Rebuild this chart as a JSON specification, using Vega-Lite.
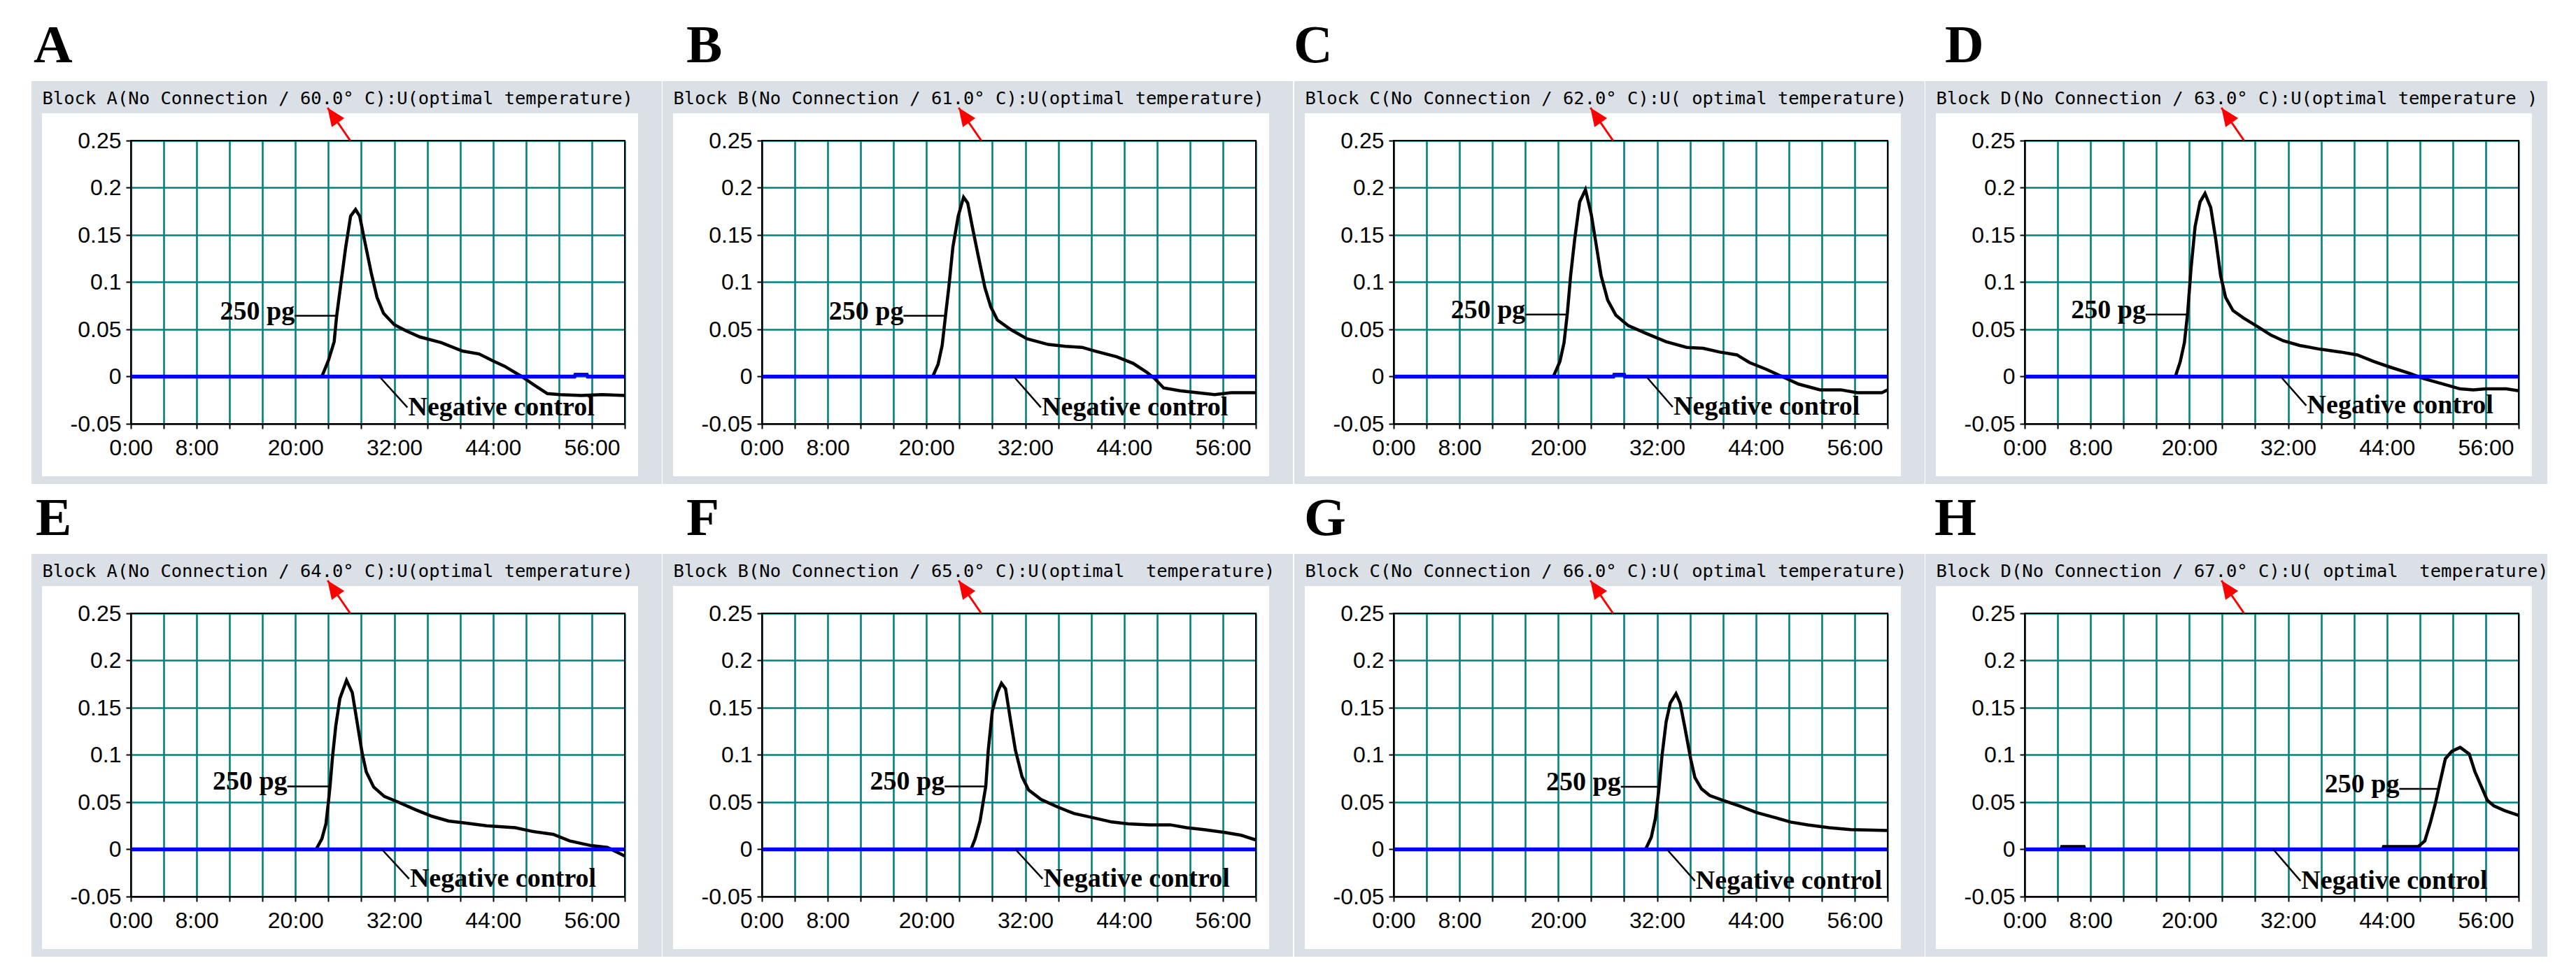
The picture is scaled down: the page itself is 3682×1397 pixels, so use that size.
{
"$schema": "https://vega.github.io/schema/vega-lite/v6.json",
"background": "white",
"padding": {"left": 44, "top": 27, "right": 0, "bottom": 0},
"config": {
  "view": {"stroke": null},
  "axis": {"grid": true, "ticks": true, "domainColor": "#000000", "domainWidth": 2, "tickColor": "#000000", "tickWidth": 2, "tickSize": 7, "labelFont": "Liberation Sans", "labelFontSize": 32, "labelColor": "#000000", "gridColor": "#008080", "gridWidth": 2.6, "gridOpacity": 1},
  "axisX": {"labelPadding": 12},
  "axisY": {"labelPadding": 7},
  "title": {"font": "Liberation Serif", "fontSize": 77, "fontWeight": "bold", "color": "#000000", "anchor": "start", "frame": "bounds", "offset": 11, "baseline": "alphabetic"}
},
"datasets": {
  "A_s": [{"minute":0,"signal":0},{"minute":23.2,"signal":0},{"minute":24.0,"signal":0.017},{"minute":24.7,"signal":0.037},{"minute":25.0,"signal":0.064},{"minute":25.6,"signal":0.104},{"minute":26.1,"signal":0.137},{"minute":26.7,"signal":0.170},{"minute":27.3,"signal":0.177},{"minute":27.8,"signal":0.170},{"minute":28.4,"signal":0.144},{"minute":29.2,"signal":0.110},{"minute":29.9,"signal":0.084},{"minute":30.7,"signal":0.067},{"minute":32.0,"signal":0.055},{"minute":33.3,"signal":0.049},{"minute":35.1,"signal":0.042},{"minute":37.7,"signal":0.036},{"minute":40.3,"signal":0.027},{"minute":42.3,"signal":0.024},{"minute":43.9,"signal":0.017},{"minute":45.4,"signal":0.011},{"minute":47.5,"signal":0.0},{"minute":49.0,"signal":-0.009},{"minute":50.6,"signal":-0.018},{"minute":52.1,"signal":-0.019},{"minute":54.7,"signal":-0.020},{"minute":57.3,"signal":-0.019},{"minute":60,"signal":-0.020}],
  "B_s": [{"minute":0,"signal":0},{"minute":20.75,"signal":0},{"minute":21.4,"signal":0.013},{"minute":21.9,"signal":0.033},{"minute":22.3,"signal":0.064},{"minute":22.7,"signal":0.094},{"minute":23.2,"signal":0.137},{"minute":23.85,"signal":0.170},{"minute":24.5,"signal":0.190},{"minute":25.0,"signal":0.184},{"minute":25.6,"signal":0.157},{"minute":26.3,"signal":0.127},{"minute":27.1,"signal":0.094},{"minute":27.8,"signal":0.074},{"minute":28.6,"signal":0.060},{"minute":30.2,"signal":0.050},{"minute":32.2,"signal":0.040},{"minute":34.8,"signal":0.034},{"minute":36.9,"signal":0.032},{"minute":38.9,"signal":0.031},{"minute":40.5,"signal":0.027},{"minute":43.1,"signal":0.021},{"minute":45.1,"signal":0.014},{"minute":46.7,"signal":0.005},{"minute":47.7,"signal":-0.002},{"minute":48.8,"signal":-0.012},{"minute":50.8,"signal":-0.015},{"minute":52.9,"signal":-0.017},{"minute":55.0,"signal":-0.019},{"minute":57.0,"signal":-0.017},{"minute":60,"signal":-0.017}],
  "C_s": [{"minute":0,"signal":0},{"minute":19.4,"signal":0},{"minute":20.2,"signal":0.016},{"minute":20.7,"signal":0.036},{"minute":21.1,"signal":0.067},{"minute":21.5,"signal":0.107},{"minute":22.0,"signal":0.146},{"minute":22.6,"signal":0.185},{"minute":23.3,"signal":0.198},{"minute":24.0,"signal":0.172},{"minute":24.6,"signal":0.140},{"minute":25.2,"signal":0.107},{"minute":26.0,"signal":0.081},{"minute":27.0,"signal":0.065},{"minute":28.5,"signal":0.054},{"minute":30.6,"signal":0.046},{"minute":33.1,"signal":0.037},{"minute":35.6,"signal":0.031},{"minute":37.6,"signal":0.030},{"minute":39.6,"signal":0.026},{"minute":41.7,"signal":0.023},{"minute":43.2,"signal":0.015},{"minute":45.2,"signal":0.008},{"minute":47.2,"signal":0.0},{"minute":49.2,"signal":-0.008},{"minute":51.8,"signal":-0.014},{"minute":54.3,"signal":-0.014},{"minute":56.3,"signal":-0.017},{"minute":59.3,"signal":-0.017},{"minute":60,"signal":-0.014}],
  "D_s": [{"minute":0,"signal":0},{"minute":18.3,"signal":0},{"minute":18.9,"signal":0.016},{"minute":19.4,"signal":0.036},{"minute":19.8,"signal":0.068},{"minute":20.2,"signal":0.114},{"minute":20.7,"signal":0.159},{"minute":21.3,"signal":0.185},{"minute":21.9,"signal":0.194},{"minute":22.6,"signal":0.179},{"minute":23.2,"signal":0.146},{"minute":23.8,"signal":0.107},{"minute":24.4,"signal":0.084},{"minute":25.3,"signal":0.070},{"minute":26.6,"signal":0.062},{"minute":28.1,"signal":0.054},{"minute":29.9,"signal":0.044},{"minute":31.4,"signal":0.038},{"minute":33.4,"signal":0.033},{"minute":35.9,"signal":0.029},{"minute":38.4,"signal":0.026},{"minute":40.4,"signal":0.023},{"minute":42.4,"signal":0.016},{"minute":44.4,"signal":0.010},{"minute":46.9,"signal":0.003},{"minute":48.4,"signal":-0.002},{"minute":50.9,"signal":-0.008},{"minute":52.9,"signal":-0.013},{"minute":54.5,"signal":-0.014},{"minute":56.0,"signal":-0.013},{"minute":58.5,"signal":-0.013},{"minute":60,"signal":-0.015}],
  "E_s": [{"minute":0,"signal":0},{"minute":22.5,"signal":0},{"minute":23.2,"signal":0.011},{"minute":23.7,"signal":0.027},{"minute":24.0,"signal":0.050},{"minute":24.2,"signal":0.067},{"minute":24.5,"signal":0.098},{"minute":24.9,"signal":0.131},{"minute":25.4,"signal":0.160},{"minute":26.2,"signal":0.179},{"minute":26.9,"signal":0.166},{"minute":27.5,"signal":0.134},{"minute":28.1,"signal":0.102},{"minute":28.6,"signal":0.082},{"minute":29.5,"signal":0.066},{"minute":30.8,"signal":0.056},{"minute":32.5,"signal":0.050},{"minute":34.6,"signal":0.042},{"minute":36.6,"signal":0.035},{"minute":38.6,"signal":0.030},{"minute":40.6,"signal":0.028},{"minute":43.2,"signal":0.025},{"minute":46.7,"signal":0.023},{"minute":48.8,"signal":0.019},{"minute":51.3,"signal":0.016},{"minute":53.3,"signal":0.009},{"minute":55.9,"signal":0.004},{"minute":57.9,"signal":0.002},{"minute":60,"signal":-0.007}],
  "F_s": [{"minute":0,"signal":0},{"minute":25.4,"signal":0},{"minute":25.9,"signal":0.011},{"minute":26.5,"signal":0.030},{"minute":27.2,"signal":0.067},{"minute":27.5,"signal":0.105},{"minute":28.0,"signal":0.147},{"minute":28.6,"signal":0.166},{"minute":29.1,"signal":0.176},{"minute":29.6,"signal":0.170},{"minute":30.2,"signal":0.137},{"minute":30.8,"signal":0.105},{"minute":31.6,"signal":0.077},{"minute":32.4,"signal":0.063},{"minute":33.9,"signal":0.053},{"minute":35.9,"signal":0.045},{"minute":37.9,"signal":0.038},{"minute":40.0,"signal":0.034},{"minute":42.5,"signal":0.029},{"minute":44.5,"signal":0.027},{"minute":47.1,"signal":0.026},{"minute":49.6,"signal":0.026},{"minute":51.6,"signal":0.023},{"minute":53.7,"signal":0.021},{"minute":56.2,"signal":0.018},{"minute":58.2,"signal":0.015},{"minute":60,"signal":0.010}],
  "G_s": [{"minute":0,"signal":0},{"minute":30.6,"signal":0},{"minute":31.3,"signal":0.013},{"minute":31.8,"signal":0.033},{"minute":32.2,"signal":0.062},{"minute":32.6,"signal":0.099},{"minute":33.1,"signal":0.135},{"minute":33.6,"signal":0.155},{"minute":34.3,"signal":0.165},{"minute":34.8,"signal":0.155},{"minute":35.4,"signal":0.128},{"minute":36.1,"signal":0.095},{"minute":36.6,"signal":0.076},{"minute":37.4,"signal":0.064},{"minute":38.4,"signal":0.057},{"minute":40.0,"signal":0.052},{"minute":42.0,"signal":0.046},{"minute":44.1,"signal":0.039},{"minute":46.2,"signal":0.034},{"minute":48.2,"signal":0.029},{"minute":50.3,"signal":0.026},{"minute":52.9,"signal":0.023},{"minute":55.5,"signal":0.021},{"minute":60,"signal":0.020}],
  "H_s": [{"minute":0,"signal":0},{"minute":4.4,"signal":0},{"minute":4.5,"signal":0.003},{"minute":7.2,"signal":0.003},{"minute":7.3,"signal":0},{"minute":43.5,"signal":0},{"minute":43.6,"signal":0.003},{"minute":47.8,"signal":0.003},{"minute":48.6,"signal":0.009},{"minute":49.3,"signal":0.029},{"minute":49.9,"signal":0.049},{"minute":50.4,"signal":0.069},{"minute":51.1,"signal":0.096},{"minute":51.9,"signal":0.104},{"minute":52.9,"signal":0.108},{"minute":54.0,"signal":0.101},{"minute":54.7,"signal":0.082},{"minute":55.5,"signal":0.066},{"minute":56.2,"signal":0.052},{"minute":57.0,"signal":0.046},{"minute":58.3,"signal":0.041},{"minute":60,"signal":0.036}],
  "A_n": [{"minute":0,"signal":0},{"minute":53.9,"signal":0},{"minute":54.0,"signal":0.002},{"minute":55.4,"signal":0.002},{"minute":55.5,"signal":0},{"minute":60,"signal":0}],
  "C_n": [{"minute":0,"signal":0},{"minute":26.7,"signal":0},{"minute":26.8,"signal":0.002},{"minute":28.0,"signal":0.002},{"minute":28.1,"signal":0},{"minute":60,"signal":0}],
  "N0": [{"minute":0,"signal":0},{"minute":60,"signal":0}],
  "one": [{}]
},
"columns": 4,
"spacing": {"row": 11, "column": 0},
"concat": [
{"width": 706, "height": 405, "title": {"text": "A", "dx": 3},
 "layer": [
  {"data": {"name": "A_s"}, "mark": {"type": "line", "color": "#000000", "strokeWidth": 4.5, "opacity": 0}, "encoding": {"x": {"field": "minute", "type": "quantitative", "scale": {"domain": [0, 60], "nice": false, "zero": false}, "axis": {"grid": true, "values": [0,4,8,12,16,20,24,28,32,36,40,44,48,52,56,60], "labelExpr": "indexof([0,8,20,32,44,56], datum.value) >= 0 ? datum.value + ':00' : ''", "labelFlush": false, "labelOverlap": false, "title": null}}, "y": {"field": "signal", "type": "quantitative", "scale": {"domain": [-0.05, 0.25], "nice": false, "zero": false}, "axis": {"grid": true, "values": [-0.05,0,0.05,0.1,0.15,0.2,0.25], "labelExpr": "datum.value < 0 ? '-' + format(-datum.value, '~g') : format(datum.value, '~g')", "labelOverlap": false, "title": null}}}},
  {"data": {"name": "one"}, "mark": {"type": "rect", "color": "#dbe0e7"}, "encoding": {"x": {"datum": -12.068, "type": "quantitative"}, "x2": {"datum": 64.504}, "y": {"datum": 0.27889, "type": "quantitative"}, "y2": {"datum": 0.31296}}},
  {"data": {"name": "one"}, "mark": {"type": "rect", "color": "#dbe0e7"}, "encoding": {"x": {"datum": -12.068, "type": "quantitative"}, "x2": {"datum": 64.504}, "y": {"datum": -0.1137, "type": "quantitative"}, "y2": {"datum": -0.10556}}},
  {"data": {"name": "one"}, "mark": {"type": "rect", "color": "#dbe0e7"}, "encoding": {"x": {"datum": -12.068, "type": "quantitative"}, "x2": {"datum": -10.793}, "y": {"datum": -0.1137, "type": "quantitative"}, "y2": {"datum": 0.31296}}},
  {"data": {"name": "one"}, "mark": {"type": "rect", "color": "#dbe0e7"}, "encoding": {"x": {"datum": 61.615, "type": "quantitative"}, "x2": {"datum": 64.504}, "y": {"datum": -0.1137, "type": "quantitative"}, "y2": {"datum": 0.31296}}},
  {"data": {"name": "A_s"}, "mark": {"type": "line", "color": "#000000", "strokeWidth": 4.5}, "encoding": {"x": {"field": "minute", "type": "quantitative"}, "y": {"field": "signal", "type": "quantitative"}}},
  {"data": {"name": "A_n"}, "mark": {"type": "line", "color": "#0000ff", "strokeWidth": 5.5}, "encoding": {"x": {"field": "minute", "type": "quantitative"}, "y": {"field": "signal", "type": "quantitative"}}},
  {"data": {"name": "one"}, "mark": {"type": "rect", "filled": false, "stroke": "#000000", "strokeWidth": 2}, "encoding": {"x": {"datum": 0, "type": "quantitative"}, "x2": {"datum": 60}, "y": {"datum": -0.05, "type": "quantitative"}, "y2": {"datum": 0.25}}},
  {"data": {"name": "one"}, "mark": {"type": "rule", "color": "#000000", "strokeWidth": 2.5}, "encoding": {"x": {"datum": 19.9, "type": "quantitative"}, "x2": {"datum": 25.0}, "y": {"datum": 0.0644, "type": "quantitative"}, "y2": {"datum": 0.0644}}},
  {"data": {"name": "one"}, "mark": {"type": "text", "text": "250 pg", "font": "Liberation Serif", "fontWeight": "bold", "fontSize": 38, "align": "right", "baseline": "alphabetic", "color": "#000000"}, "encoding": {"x": {"datum": 19.9, "type": "quantitative"}, "y": {"datum": 0.0607, "type": "quantitative"}}},
  {"data": {"name": "one"}, "mark": {"type": "rule", "color": "#000000", "strokeWidth": 2.5}, "encoding": {"x": {"datum": 30.2, "type": "quantitative"}, "x2": {"datum": 33.6}, "y": {"datum": 0, "type": "quantitative"}, "y2": {"datum": -0.0327}}},
  {"data": {"name": "one"}, "mark": {"type": "text", "text": "Negative control", "font": "Liberation Serif", "fontWeight": "bold", "fontSize": 38, "align": "left", "baseline": "alphabetic", "color": "#000000"}, "encoding": {"x": {"datum": 33.7, "type": "quantitative"}, "y": {"datum": -0.041, "type": "quantitative"}}},
  {"data": {"name": "one"}, "mark": {"type": "rule", "color": "#ff0000", "strokeWidth": 3}, "encoding": {"x": {"datum": 26.65, "type": "quantitative"}, "x2": {"datum": 23.9}, "y": {"datum": 0.25, "type": "quantitative"}, "y2": {"datum": 0.2848}}},
  {"data": {"name": "one"}, "mark": {"type": "point", "shape": "M0,0L-1.1,2.6L1.1,2.6Z", "size": 400, "filled": true, "color": "#ff0000", "opacity": 1, "angle": -35}, "encoding": {"x": {"datum": 23.9, "type": "quantitative"}, "y": {"datum": 0.2848, "type": "quantitative"}}},
  {"data": {"name": "one"}, "mark": {"type": "text", "text": "Block A(No Connection / 60.0° C):U(optimal temperature)", "font": "DejaVu Sans Mono", "fontSize": 25.5, "align": "left", "baseline": "alphabetic", "color": "#000000"}, "encoding": {"x": {"datum": -10.75, "type": "quantitative"}, "y": {"datum": 0.28852, "type": "quantitative"}}}
 ]},
{"width": 706, "height": 405, "title": {"text": "B", "dx": 34},
 "layer": [
  {"data": {"name": "B_s"}, "mark": {"type": "line", "color": "#000000", "strokeWidth": 4.5, "opacity": 0}, "encoding": {"x": {"field": "minute", "type": "quantitative", "scale": {"domain": [0, 60], "nice": false, "zero": false}, "axis": {"grid": true, "values": [0,4,8,12,16,20,24,28,32,36,40,44,48,52,56,60], "labelExpr": "indexof([0,8,20,32,44,56], datum.value) >= 0 ? datum.value + ':00' : ''", "labelFlush": false, "labelOverlap": false, "title": null}}, "y": {"field": "signal", "type": "quantitative", "scale": {"domain": [-0.05, 0.25], "nice": false, "zero": false}, "axis": {"grid": true, "values": [-0.05,0,0.05,0.1,0.15,0.2,0.25], "labelExpr": "datum.value < 0 ? '-' + format(-datum.value, '~g') : format(datum.value, '~g')", "labelOverlap": false, "title": null}}}},
  {"data": {"name": "one"}, "mark": {"type": "rect", "color": "#dbe0e7"}, "encoding": {"x": {"datum": -12.068, "type": "quantitative"}, "x2": {"datum": 64.504}, "y": {"datum": 0.27889, "type": "quantitative"}, "y2": {"datum": 0.31296}}},
  {"data": {"name": "one"}, "mark": {"type": "rect", "color": "#dbe0e7"}, "encoding": {"x": {"datum": -12.068, "type": "quantitative"}, "x2": {"datum": 64.504}, "y": {"datum": -0.1137, "type": "quantitative"}, "y2": {"datum": -0.10556}}},
  {"data": {"name": "one"}, "mark": {"type": "rect", "color": "#dbe0e7"}, "encoding": {"x": {"datum": -12.068, "type": "quantitative"}, "x2": {"datum": -10.793}, "y": {"datum": -0.1137, "type": "quantitative"}, "y2": {"datum": 0.31296}}},
  {"data": {"name": "one"}, "mark": {"type": "rect", "color": "#dbe0e7"}, "encoding": {"x": {"datum": 61.615, "type": "quantitative"}, "x2": {"datum": 64.504}, "y": {"datum": -0.1137, "type": "quantitative"}, "y2": {"datum": 0.31296}}},
  {"data": {"name": "B_s"}, "mark": {"type": "line", "color": "#000000", "strokeWidth": 4.5}, "encoding": {"x": {"field": "minute", "type": "quantitative"}, "y": {"field": "signal", "type": "quantitative"}}},
  {"data": {"name": "N0"}, "mark": {"type": "line", "color": "#0000ff", "strokeWidth": 5.5}, "encoding": {"x": {"field": "minute", "type": "quantitative"}, "y": {"field": "signal", "type": "quantitative"}}},
  {"data": {"name": "one"}, "mark": {"type": "rect", "filled": false, "stroke": "#000000", "strokeWidth": 2}, "encoding": {"x": {"datum": 0, "type": "quantitative"}, "x2": {"datum": 60}, "y": {"datum": -0.05, "type": "quantitative"}, "y2": {"datum": 0.25}}},
  {"data": {"name": "one"}, "mark": {"type": "rule", "color": "#000000", "strokeWidth": 2.5}, "encoding": {"x": {"datum": 17.2, "type": "quantitative"}, "x2": {"datum": 22.3}, "y": {"datum": 0.0644, "type": "quantitative"}, "y2": {"datum": 0.0644}}},
  {"data": {"name": "one"}, "mark": {"type": "text", "text": "250 pg", "font": "Liberation Serif", "fontWeight": "bold", "fontSize": 38, "align": "right", "baseline": "alphabetic", "color": "#000000"}, "encoding": {"x": {"datum": 17.2, "type": "quantitative"}, "y": {"datum": 0.0607, "type": "quantitative"}}},
  {"data": {"name": "one"}, "mark": {"type": "rule", "color": "#000000", "strokeWidth": 2.5}, "encoding": {"x": {"datum": 30.6, "type": "quantitative"}, "x2": {"datum": 33.9}, "y": {"datum": 0, "type": "quantitative"}, "y2": {"datum": -0.0327}}},
  {"data": {"name": "one"}, "mark": {"type": "text", "text": "Negative control", "font": "Liberation Serif", "fontWeight": "bold", "fontSize": 38, "align": "left", "baseline": "alphabetic", "color": "#000000"}, "encoding": {"x": {"datum": 34.0, "type": "quantitative"}, "y": {"datum": -0.041, "type": "quantitative"}}},
  {"data": {"name": "one"}, "mark": {"type": "rule", "color": "#ff0000", "strokeWidth": 3}, "encoding": {"x": {"datum": 26.65, "type": "quantitative"}, "x2": {"datum": 23.9}, "y": {"datum": 0.25, "type": "quantitative"}, "y2": {"datum": 0.2848}}},
  {"data": {"name": "one"}, "mark": {"type": "point", "shape": "M0,0L-1.1,2.6L1.1,2.6Z", "size": 400, "filled": true, "color": "#ff0000", "opacity": 1, "angle": -35}, "encoding": {"x": {"datum": 23.9, "type": "quantitative"}, "y": {"datum": 0.2848, "type": "quantitative"}}},
  {"data": {"name": "one"}, "mark": {"type": "text", "text": "Block B(No Connection / 61.0° C):U(optimal temperature)", "font": "DejaVu Sans Mono", "fontSize": 25.5, "align": "left", "baseline": "alphabetic", "color": "#000000"}, "encoding": {"x": {"datum": -10.75, "type": "quantitative"}, "y": {"datum": 0.28852, "type": "quantitative"}}}
 ]},
{"width": 706, "height": 405, "title": {"text": "C", "dx": -1},
 "layer": [
  {"data": {"name": "C_s"}, "mark": {"type": "line", "color": "#000000", "strokeWidth": 4.5, "opacity": 0}, "encoding": {"x": {"field": "minute", "type": "quantitative", "scale": {"domain": [0, 60], "nice": false, "zero": false}, "axis": {"grid": true, "values": [0,4,8,12,16,20,24,28,32,36,40,44,48,52,56,60], "labelExpr": "indexof([0,8,20,32,44,56], datum.value) >= 0 ? datum.value + ':00' : ''", "labelFlush": false, "labelOverlap": false, "title": null}}, "y": {"field": "signal", "type": "quantitative", "scale": {"domain": [-0.05, 0.25], "nice": false, "zero": false}, "axis": {"grid": true, "values": [-0.05,0,0.05,0.1,0.15,0.2,0.25], "labelExpr": "datum.value < 0 ? '-' + format(-datum.value, '~g') : format(datum.value, '~g')", "labelOverlap": false, "title": null}}}},
  {"data": {"name": "one"}, "mark": {"type": "rect", "color": "#dbe0e7"}, "encoding": {"x": {"datum": -12.068, "type": "quantitative"}, "x2": {"datum": 64.504}, "y": {"datum": 0.27889, "type": "quantitative"}, "y2": {"datum": 0.31296}}},
  {"data": {"name": "one"}, "mark": {"type": "rect", "color": "#dbe0e7"}, "encoding": {"x": {"datum": -12.068, "type": "quantitative"}, "x2": {"datum": 64.504}, "y": {"datum": -0.1137, "type": "quantitative"}, "y2": {"datum": -0.10556}}},
  {"data": {"name": "one"}, "mark": {"type": "rect", "color": "#dbe0e7"}, "encoding": {"x": {"datum": -12.068, "type": "quantitative"}, "x2": {"datum": -10.793}, "y": {"datum": -0.1137, "type": "quantitative"}, "y2": {"datum": 0.31296}}},
  {"data": {"name": "one"}, "mark": {"type": "rect", "color": "#dbe0e7"}, "encoding": {"x": {"datum": 61.615, "type": "quantitative"}, "x2": {"datum": 64.504}, "y": {"datum": -0.1137, "type": "quantitative"}, "y2": {"datum": 0.31296}}},
  {"data": {"name": "C_s"}, "mark": {"type": "line", "color": "#000000", "strokeWidth": 4.5}, "encoding": {"x": {"field": "minute", "type": "quantitative"}, "y": {"field": "signal", "type": "quantitative"}}},
  {"data": {"name": "C_n"}, "mark": {"type": "line", "color": "#0000ff", "strokeWidth": 5.5}, "encoding": {"x": {"field": "minute", "type": "quantitative"}, "y": {"field": "signal", "type": "quantitative"}}},
  {"data": {"name": "one"}, "mark": {"type": "rect", "filled": false, "stroke": "#000000", "strokeWidth": 2}, "encoding": {"x": {"datum": 0, "type": "quantitative"}, "x2": {"datum": 60}, "y": {"datum": -0.05, "type": "quantitative"}, "y2": {"datum": 0.25}}},
  {"data": {"name": "one"}, "mark": {"type": "rule", "color": "#000000", "strokeWidth": 2.5}, "encoding": {"x": {"datum": 16.0, "type": "quantitative"}, "x2": {"datum": 21.08}, "y": {"datum": 0.0658, "type": "quantitative"}, "y2": {"datum": 0.0658}}},
  {"data": {"name": "one"}, "mark": {"type": "text", "text": "250 pg", "font": "Liberation Serif", "fontWeight": "bold", "fontSize": 38, "align": "right", "baseline": "alphabetic", "color": "#000000"}, "encoding": {"x": {"datum": 16.0, "type": "quantitative"}, "y": {"datum": 0.0621, "type": "quantitative"}}},
  {"data": {"name": "one"}, "mark": {"type": "rule", "color": "#000000", "strokeWidth": 2.5}, "encoding": {"x": {"datum": 30.7, "type": "quantitative"}, "x2": {"datum": 33.9}, "y": {"datum": 0, "type": "quantitative"}, "y2": {"datum": -0.0322}}},
  {"data": {"name": "one"}, "mark": {"type": "text", "text": "Negative control", "font": "Liberation Serif", "fontWeight": "bold", "fontSize": 38, "align": "left", "baseline": "alphabetic", "color": "#000000"}, "encoding": {"x": {"datum": 34.0, "type": "quantitative"}, "y": {"datum": -0.0405, "type": "quantitative"}}},
  {"data": {"name": "one"}, "mark": {"type": "rule", "color": "#ff0000", "strokeWidth": 3}, "encoding": {"x": {"datum": 26.65, "type": "quantitative"}, "x2": {"datum": 23.9}, "y": {"datum": 0.25, "type": "quantitative"}, "y2": {"datum": 0.2848}}},
  {"data": {"name": "one"}, "mark": {"type": "point", "shape": "M0,0L-1.1,2.6L1.1,2.6Z", "size": 400, "filled": true, "color": "#ff0000", "opacity": 1, "angle": -35}, "encoding": {"x": {"datum": 23.9, "type": "quantitative"}, "y": {"datum": 0.2848, "type": "quantitative"}}},
  {"data": {"name": "one"}, "mark": {"type": "text", "text": "Block C(No Connection / 62.0° C):U( optimal temperature)", "font": "DejaVu Sans Mono", "fontSize": 25.5, "align": "left", "baseline": "alphabetic", "color": "#000000"}, "encoding": {"x": {"datum": -10.75, "type": "quantitative"}, "y": {"datum": 0.28852, "type": "quantitative"}}}
 ]},
{"width": 706, "height": 405, "title": {"text": "D", "dx": 28},
 "layer": [
  {"data": {"name": "D_s"}, "mark": {"type": "line", "color": "#000000", "strokeWidth": 4.5, "opacity": 0}, "encoding": {"x": {"field": "minute", "type": "quantitative", "scale": {"domain": [0, 60], "nice": false, "zero": false}, "axis": {"grid": true, "values": [0,4,8,12,16,20,24,28,32,36,40,44,48,52,56,60], "labelExpr": "indexof([0,8,20,32,44,56], datum.value) >= 0 ? datum.value + ':00' : ''", "labelFlush": false, "labelOverlap": false, "title": null}}, "y": {"field": "signal", "type": "quantitative", "scale": {"domain": [-0.05, 0.25], "nice": false, "zero": false}, "axis": {"grid": true, "values": [-0.05,0,0.05,0.1,0.15,0.2,0.25], "labelExpr": "datum.value < 0 ? '-' + format(-datum.value, '~g') : format(datum.value, '~g')", "labelOverlap": false, "title": null}}}},
  {"data": {"name": "one"}, "mark": {"type": "rect", "color": "#dbe0e7"}, "encoding": {"x": {"datum": -12.068, "type": "quantitative"}, "x2": {"datum": 63.484}, "y": {"datum": 0.27889, "type": "quantitative"}, "y2": {"datum": 0.31296}}},
  {"data": {"name": "one"}, "mark": {"type": "rect", "color": "#dbe0e7"}, "encoding": {"x": {"datum": -12.068, "type": "quantitative"}, "x2": {"datum": 63.484}, "y": {"datum": -0.1137, "type": "quantitative"}, "y2": {"datum": -0.10556}}},
  {"data": {"name": "one"}, "mark": {"type": "rect", "color": "#dbe0e7"}, "encoding": {"x": {"datum": -12.068, "type": "quantitative"}, "x2": {"datum": -10.793}, "y": {"datum": -0.1137, "type": "quantitative"}, "y2": {"datum": 0.31296}}},
  {"data": {"name": "one"}, "mark": {"type": "rect", "color": "#dbe0e7"}, "encoding": {"x": {"datum": 61.615, "type": "quantitative"}, "x2": {"datum": 63.484}, "y": {"datum": -0.1137, "type": "quantitative"}, "y2": {"datum": 0.31296}}},
  {"data": {"name": "D_s"}, "mark": {"type": "line", "color": "#000000", "strokeWidth": 4.5}, "encoding": {"x": {"field": "minute", "type": "quantitative"}, "y": {"field": "signal", "type": "quantitative"}}},
  {"data": {"name": "N0"}, "mark": {"type": "line", "color": "#0000ff", "strokeWidth": 5.5}, "encoding": {"x": {"field": "minute", "type": "quantitative"}, "y": {"field": "signal", "type": "quantitative"}}},
  {"data": {"name": "one"}, "mark": {"type": "rect", "filled": false, "stroke": "#000000", "strokeWidth": 2}, "encoding": {"x": {"datum": 0, "type": "quantitative"}, "x2": {"datum": 60}, "y": {"datum": -0.05, "type": "quantitative"}, "y2": {"datum": 0.25}}},
  {"data": {"name": "one"}, "mark": {"type": "rule", "color": "#000000", "strokeWidth": 2.5}, "encoding": {"x": {"datum": 14.7, "type": "quantitative"}, "x2": {"datum": 19.77}, "y": {"datum": 0.0658, "type": "quantitative"}, "y2": {"datum": 0.0658}}},
  {"data": {"name": "one"}, "mark": {"type": "text", "text": "250 pg", "font": "Liberation Serif", "fontWeight": "bold", "fontSize": 38, "align": "right", "baseline": "alphabetic", "color": "#000000"}, "encoding": {"x": {"datum": 14.7, "type": "quantitative"}, "y": {"datum": 0.0621, "type": "quantitative"}}},
  {"data": {"name": "one"}, "mark": {"type": "rule", "color": "#000000", "strokeWidth": 2.5}, "encoding": {"x": {"datum": 31.1, "type": "quantitative"}, "x2": {"datum": 34.2}, "y": {"datum": 0, "type": "quantitative"}, "y2": {"datum": -0.0306}}},
  {"data": {"name": "one"}, "mark": {"type": "text", "text": "Negative control", "font": "Liberation Serif", "fontWeight": "bold", "fontSize": 38, "align": "left", "baseline": "alphabetic", "color": "#000000"}, "encoding": {"x": {"datum": 34.3, "type": "quantitative"}, "y": {"datum": -0.039, "type": "quantitative"}}},
  {"data": {"name": "one"}, "mark": {"type": "rule", "color": "#ff0000", "strokeWidth": 3}, "encoding": {"x": {"datum": 26.65, "type": "quantitative"}, "x2": {"datum": 23.9}, "y": {"datum": 0.25, "type": "quantitative"}, "y2": {"datum": 0.2848}}},
  {"data": {"name": "one"}, "mark": {"type": "point", "shape": "M0,0L-1.1,2.6L1.1,2.6Z", "size": 400, "filled": true, "color": "#ff0000", "opacity": 1, "angle": -35}, "encoding": {"x": {"datum": 23.9, "type": "quantitative"}, "y": {"datum": 0.2848, "type": "quantitative"}}},
  {"data": {"name": "one"}, "mark": {"type": "text", "text": "Block D(No Connection / 63.0° C):U(optimal temperature )", "font": "DejaVu Sans Mono", "fontSize": 25.5, "align": "left", "baseline": "alphabetic", "color": "#000000"}, "encoding": {"x": {"datum": -10.75, "type": "quantitative"}, "y": {"datum": 0.28852, "type": "quantitative"}}}
 ]},
{"width": 706, "height": 405, "title": {"text": "E", "dx": 6},
 "layer": [
  {"data": {"name": "E_s"}, "mark": {"type": "line", "color": "#000000", "strokeWidth": 4.5, "opacity": 0}, "encoding": {"x": {"field": "minute", "type": "quantitative", "scale": {"domain": [0, 60], "nice": false, "zero": false}, "axis": {"grid": true, "values": [0,4,8,12,16,20,24,28,32,36,40,44,48,52,56,60], "labelExpr": "indexof([0,8,20,32,44,56], datum.value) >= 0 ? datum.value + ':00' : ''", "labelFlush": false, "labelOverlap": false, "title": null}}, "y": {"field": "signal", "type": "quantitative", "scale": {"domain": [-0.05, 0.25], "nice": false, "zero": false}, "axis": {"grid": true, "values": [-0.05,0,0.05,0.1,0.15,0.2,0.25], "labelExpr": "datum.value < 0 ? '-' + format(-datum.value, '~g') : format(datum.value, '~g')", "labelOverlap": false, "title": null}}}},
  {"data": {"name": "one"}, "mark": {"type": "rect", "color": "#dbe0e7"}, "encoding": {"x": {"datum": -12.068, "type": "quantitative"}, "x2": {"datum": 64.504}, "y": {"datum": 0.27889, "type": "quantitative"}, "y2": {"datum": 0.31296}}},
  {"data": {"name": "one"}, "mark": {"type": "rect", "color": "#dbe0e7"}, "encoding": {"x": {"datum": -12.068, "type": "quantitative"}, "x2": {"datum": 64.504}, "y": {"datum": -0.1137, "type": "quantitative"}, "y2": {"datum": -0.10556}}},
  {"data": {"name": "one"}, "mark": {"type": "rect", "color": "#dbe0e7"}, "encoding": {"x": {"datum": -12.068, "type": "quantitative"}, "x2": {"datum": -10.793}, "y": {"datum": -0.1137, "type": "quantitative"}, "y2": {"datum": 0.31296}}},
  {"data": {"name": "one"}, "mark": {"type": "rect", "color": "#dbe0e7"}, "encoding": {"x": {"datum": 61.615, "type": "quantitative"}, "x2": {"datum": 64.504}, "y": {"datum": -0.1137, "type": "quantitative"}, "y2": {"datum": 0.31296}}},
  {"data": {"name": "E_s"}, "mark": {"type": "line", "color": "#000000", "strokeWidth": 4.5}, "encoding": {"x": {"field": "minute", "type": "quantitative"}, "y": {"field": "signal", "type": "quantitative"}}},
  {"data": {"name": "N0"}, "mark": {"type": "line", "color": "#0000ff", "strokeWidth": 5.5}, "encoding": {"x": {"field": "minute", "type": "quantitative"}, "y": {"field": "signal", "type": "quantitative"}}},
  {"data": {"name": "one"}, "mark": {"type": "rect", "filled": false, "stroke": "#000000", "strokeWidth": 2}, "encoding": {"x": {"datum": 0, "type": "quantitative"}, "x2": {"datum": 60}, "y": {"datum": -0.05, "type": "quantitative"}, "y2": {"datum": 0.25}}},
  {"data": {"name": "one"}, "mark": {"type": "rule", "color": "#000000", "strokeWidth": 2.5}, "encoding": {"x": {"datum": 19.0, "type": "quantitative"}, "x2": {"datum": 24.2}, "y": {"datum": 0.0667, "type": "quantitative"}, "y2": {"datum": 0.0667}}},
  {"data": {"name": "one"}, "mark": {"type": "text", "text": "250 pg", "font": "Liberation Serif", "fontWeight": "bold", "fontSize": 38, "align": "right", "baseline": "alphabetic", "color": "#000000"}, "encoding": {"x": {"datum": 19.0, "type": "quantitative"}, "y": {"datum": 0.063, "type": "quantitative"}}},
  {"data": {"name": "one"}, "mark": {"type": "rule", "color": "#000000", "strokeWidth": 2.5}, "encoding": {"x": {"datum": 30.5, "type": "quantitative"}, "x2": {"datum": 33.8}, "y": {"datum": 0, "type": "quantitative"}, "y2": {"datum": -0.0312}}},
  {"data": {"name": "one"}, "mark": {"type": "text", "text": "Negative control", "font": "Liberation Serif", "fontWeight": "bold", "fontSize": 38, "align": "left", "baseline": "alphabetic", "color": "#000000"}, "encoding": {"x": {"datum": 33.9, "type": "quantitative"}, "y": {"datum": -0.0395, "type": "quantitative"}}},
  {"data": {"name": "one"}, "mark": {"type": "rule", "color": "#ff0000", "strokeWidth": 3}, "encoding": {"x": {"datum": 26.65, "type": "quantitative"}, "x2": {"datum": 23.9}, "y": {"datum": 0.25, "type": "quantitative"}, "y2": {"datum": 0.2848}}},
  {"data": {"name": "one"}, "mark": {"type": "point", "shape": "M0,0L-1.1,2.6L1.1,2.6Z", "size": 400, "filled": true, "color": "#ff0000", "opacity": 1, "angle": -35}, "encoding": {"x": {"datum": 23.9, "type": "quantitative"}, "y": {"datum": 0.2848, "type": "quantitative"}}},
  {"data": {"name": "one"}, "mark": {"type": "text", "text": "Block A(No Connection / 64.0° C):U(optimal temperature)", "font": "DejaVu Sans Mono", "fontSize": 25.5, "align": "left", "baseline": "alphabetic", "color": "#000000"}, "encoding": {"x": {"datum": -10.75, "type": "quantitative"}, "y": {"datum": 0.28852, "type": "quantitative"}}}
 ]},
{"width": 706, "height": 405, "title": {"text": "F", "dx": 34},
 "layer": [
  {"data": {"name": "F_s"}, "mark": {"type": "line", "color": "#000000", "strokeWidth": 4.5, "opacity": 0}, "encoding": {"x": {"field": "minute", "type": "quantitative", "scale": {"domain": [0, 60], "nice": false, "zero": false}, "axis": {"grid": true, "values": [0,4,8,12,16,20,24,28,32,36,40,44,48,52,56,60], "labelExpr": "indexof([0,8,20,32,44,56], datum.value) >= 0 ? datum.value + ':00' : ''", "labelFlush": false, "labelOverlap": false, "title": null}}, "y": {"field": "signal", "type": "quantitative", "scale": {"domain": [-0.05, 0.25], "nice": false, "zero": false}, "axis": {"grid": true, "values": [-0.05,0,0.05,0.1,0.15,0.2,0.25], "labelExpr": "datum.value < 0 ? '-' + format(-datum.value, '~g') : format(datum.value, '~g')", "labelOverlap": false, "title": null}}}},
  {"data": {"name": "one"}, "mark": {"type": "rect", "color": "#dbe0e7"}, "encoding": {"x": {"datum": -12.068, "type": "quantitative"}, "x2": {"datum": 64.504}, "y": {"datum": 0.27889, "type": "quantitative"}, "y2": {"datum": 0.31296}}},
  {"data": {"name": "one"}, "mark": {"type": "rect", "color": "#dbe0e7"}, "encoding": {"x": {"datum": -12.068, "type": "quantitative"}, "x2": {"datum": 64.504}, "y": {"datum": -0.1137, "type": "quantitative"}, "y2": {"datum": -0.10556}}},
  {"data": {"name": "one"}, "mark": {"type": "rect", "color": "#dbe0e7"}, "encoding": {"x": {"datum": -12.068, "type": "quantitative"}, "x2": {"datum": -10.793}, "y": {"datum": -0.1137, "type": "quantitative"}, "y2": {"datum": 0.31296}}},
  {"data": {"name": "one"}, "mark": {"type": "rect", "color": "#dbe0e7"}, "encoding": {"x": {"datum": 61.615, "type": "quantitative"}, "x2": {"datum": 64.504}, "y": {"datum": -0.1137, "type": "quantitative"}, "y2": {"datum": 0.31296}}},
  {"data": {"name": "F_s"}, "mark": {"type": "line", "color": "#000000", "strokeWidth": 4.5}, "encoding": {"x": {"field": "minute", "type": "quantitative"}, "y": {"field": "signal", "type": "quantitative"}}},
  {"data": {"name": "N0"}, "mark": {"type": "line", "color": "#0000ff", "strokeWidth": 5.5}, "encoding": {"x": {"field": "minute", "type": "quantitative"}, "y": {"field": "signal", "type": "quantitative"}}},
  {"data": {"name": "one"}, "mark": {"type": "rect", "filled": false, "stroke": "#000000", "strokeWidth": 2}, "encoding": {"x": {"datum": 0, "type": "quantitative"}, "x2": {"datum": 60}, "y": {"datum": -0.05, "type": "quantitative"}, "y2": {"datum": 0.25}}},
  {"data": {"name": "one"}, "mark": {"type": "rule", "color": "#000000", "strokeWidth": 2.5}, "encoding": {"x": {"datum": 22.2, "type": "quantitative"}, "x2": {"datum": 27.2}, "y": {"datum": 0.0667, "type": "quantitative"}, "y2": {"datum": 0.0667}}},
  {"data": {"name": "one"}, "mark": {"type": "text", "text": "250 pg", "font": "Liberation Serif", "fontWeight": "bold", "fontSize": 38, "align": "right", "baseline": "alphabetic", "color": "#000000"}, "encoding": {"x": {"datum": 22.2, "type": "quantitative"}, "y": {"datum": 0.063, "type": "quantitative"}}},
  {"data": {"name": "one"}, "mark": {"type": "rule", "color": "#000000", "strokeWidth": 2.5}, "encoding": {"x": {"datum": 30.8, "type": "quantitative"}, "x2": {"datum": 34.1}, "y": {"datum": 0, "type": "quantitative"}, "y2": {"datum": -0.0312}}},
  {"data": {"name": "one"}, "mark": {"type": "text", "text": "Negative control", "font": "Liberation Serif", "fontWeight": "bold", "fontSize": 38, "align": "left", "baseline": "alphabetic", "color": "#000000"}, "encoding": {"x": {"datum": 34.2, "type": "quantitative"}, "y": {"datum": -0.0395, "type": "quantitative"}}},
  {"data": {"name": "one"}, "mark": {"type": "rule", "color": "#ff0000", "strokeWidth": 3}, "encoding": {"x": {"datum": 26.65, "type": "quantitative"}, "x2": {"datum": 23.9}, "y": {"datum": 0.25, "type": "quantitative"}, "y2": {"datum": 0.2848}}},
  {"data": {"name": "one"}, "mark": {"type": "point", "shape": "M0,0L-1.1,2.6L1.1,2.6Z", "size": 400, "filled": true, "color": "#ff0000", "opacity": 1, "angle": -35}, "encoding": {"x": {"datum": 23.9, "type": "quantitative"}, "y": {"datum": 0.2848, "type": "quantitative"}}},
  {"data": {"name": "one"}, "mark": {"type": "text", "text": "Block B(No Connection / 65.0° C):U(optimal\u00a0 temperature)", "font": "DejaVu Sans Mono", "fontSize": 25.5, "align": "left", "baseline": "alphabetic", "color": "#000000"}, "encoding": {"x": {"datum": -10.75, "type": "quantitative"}, "y": {"datum": 0.28852, "type": "quantitative"}}}
 ]},
{"width": 706, "height": 405, "title": {"text": "G", "dx": 14},
 "layer": [
  {"data": {"name": "G_s"}, "mark": {"type": "line", "color": "#000000", "strokeWidth": 4.5, "opacity": 0}, "encoding": {"x": {"field": "minute", "type": "quantitative", "scale": {"domain": [0, 60], "nice": false, "zero": false}, "axis": {"grid": true, "values": [0,4,8,12,16,20,24,28,32,36,40,44,48,52,56,60], "labelExpr": "indexof([0,8,20,32,44,56], datum.value) >= 0 ? datum.value + ':00' : ''", "labelFlush": false, "labelOverlap": false, "title": null}}, "y": {"field": "signal", "type": "quantitative", "scale": {"domain": [-0.05, 0.25], "nice": false, "zero": false}, "axis": {"grid": true, "values": [-0.05,0,0.05,0.1,0.15,0.2,0.25], "labelExpr": "datum.value < 0 ? '-' + format(-datum.value, '~g') : format(datum.value, '~g')", "labelOverlap": false, "title": null}}}},
  {"data": {"name": "one"}, "mark": {"type": "rect", "color": "#dbe0e7"}, "encoding": {"x": {"datum": -12.068, "type": "quantitative"}, "x2": {"datum": 64.504}, "y": {"datum": 0.27889, "type": "quantitative"}, "y2": {"datum": 0.31296}}},
  {"data": {"name": "one"}, "mark": {"type": "rect", "color": "#dbe0e7"}, "encoding": {"x": {"datum": -12.068, "type": "quantitative"}, "x2": {"datum": 64.504}, "y": {"datum": -0.1137, "type": "quantitative"}, "y2": {"datum": -0.10556}}},
  {"data": {"name": "one"}, "mark": {"type": "rect", "color": "#dbe0e7"}, "encoding": {"x": {"datum": -12.068, "type": "quantitative"}, "x2": {"datum": -10.793}, "y": {"datum": -0.1137, "type": "quantitative"}, "y2": {"datum": 0.31296}}},
  {"data": {"name": "one"}, "mark": {"type": "rect", "color": "#dbe0e7"}, "encoding": {"x": {"datum": 61.615, "type": "quantitative"}, "x2": {"datum": 64.504}, "y": {"datum": -0.1137, "type": "quantitative"}, "y2": {"datum": 0.31296}}},
  {"data": {"name": "G_s"}, "mark": {"type": "line", "color": "#000000", "strokeWidth": 4.5}, "encoding": {"x": {"field": "minute", "type": "quantitative"}, "y": {"field": "signal", "type": "quantitative"}}},
  {"data": {"name": "N0"}, "mark": {"type": "line", "color": "#0000ff", "strokeWidth": 5.5}, "encoding": {"x": {"field": "minute", "type": "quantitative"}, "y": {"field": "signal", "type": "quantitative"}}},
  {"data": {"name": "one"}, "mark": {"type": "rect", "filled": false, "stroke": "#000000", "strokeWidth": 2}, "encoding": {"x": {"datum": 0, "type": "quantitative"}, "x2": {"datum": 60}, "y": {"datum": -0.05, "type": "quantitative"}, "y2": {"datum": 0.25}}},
  {"data": {"name": "one"}, "mark": {"type": "rule", "color": "#000000", "strokeWidth": 2.5}, "encoding": {"x": {"datum": 27.6, "type": "quantitative"}, "x2": {"datum": 32.3}, "y": {"datum": 0.0663, "type": "quantitative"}, "y2": {"datum": 0.0663}}},
  {"data": {"name": "one"}, "mark": {"type": "text", "text": "250 pg", "font": "Liberation Serif", "fontWeight": "bold", "fontSize": 38, "align": "right", "baseline": "alphabetic", "color": "#000000"}, "encoding": {"x": {"datum": 27.6, "type": "quantitative"}, "y": {"datum": 0.0626, "type": "quantitative"}}},
  {"data": {"name": "one"}, "mark": {"type": "rule", "color": "#000000", "strokeWidth": 2.5}, "encoding": {"x": {"datum": 33.2, "type": "quantitative"}, "x2": {"datum": 36.6}, "y": {"datum": 0, "type": "quantitative"}, "y2": {"datum": -0.0334}}},
  {"data": {"name": "one"}, "mark": {"type": "text", "text": "Negative control", "font": "Liberation Serif", "fontWeight": "bold", "fontSize": 38, "align": "left", "baseline": "alphabetic", "color": "#000000"}, "encoding": {"x": {"datum": 36.7, "type": "quantitative"}, "y": {"datum": -0.0417, "type": "quantitative"}}},
  {"data": {"name": "one"}, "mark": {"type": "rule", "color": "#ff0000", "strokeWidth": 3}, "encoding": {"x": {"datum": 26.65, "type": "quantitative"}, "x2": {"datum": 23.9}, "y": {"datum": 0.25, "type": "quantitative"}, "y2": {"datum": 0.2848}}},
  {"data": {"name": "one"}, "mark": {"type": "point", "shape": "M0,0L-1.1,2.6L1.1,2.6Z", "size": 400, "filled": true, "color": "#ff0000", "opacity": 1, "angle": -35}, "encoding": {"x": {"datum": 23.9, "type": "quantitative"}, "y": {"datum": 0.2848, "type": "quantitative"}}},
  {"data": {"name": "one"}, "mark": {"type": "text", "text": "Block C(No Connection / 66.0° C):U( optimal temperature)", "font": "DejaVu Sans Mono", "fontSize": 25.5, "align": "left", "baseline": "alphabetic", "color": "#000000"}, "encoding": {"x": {"datum": -10.75, "type": "quantitative"}, "y": {"datum": 0.28852, "type": "quantitative"}}}
 ]},
{"width": 706, "height": 405, "title": {"text": "H", "dx": 13},
 "layer": [
  {"data": {"name": "H_s"}, "mark": {"type": "line", "color": "#000000", "strokeWidth": 4.5, "opacity": 0}, "encoding": {"x": {"field": "minute", "type": "quantitative", "scale": {"domain": [0, 60], "nice": false, "zero": false}, "axis": {"grid": true, "values": [0,4,8,12,16,20,24,28,32,36,40,44,48,52,56,60], "labelExpr": "indexof([0,8,20,32,44,56], datum.value) >= 0 ? datum.value + ':00' : ''", "labelFlush": false, "labelOverlap": false, "title": null}}, "y": {"field": "signal", "type": "quantitative", "scale": {"domain": [-0.05, 0.25], "nice": false, "zero": false}, "axis": {"grid": true, "values": [-0.05,0,0.05,0.1,0.15,0.2,0.25], "labelExpr": "datum.value < 0 ? '-' + format(-datum.value, '~g') : format(datum.value, '~g')", "labelOverlap": false, "title": null}}}},
  {"data": {"name": "one"}, "mark": {"type": "rect", "color": "#dbe0e7"}, "encoding": {"x": {"datum": -12.068, "type": "quantitative"}, "x2": {"datum": 63.484}, "y": {"datum": 0.27889, "type": "quantitative"}, "y2": {"datum": 0.31296}}},
  {"data": {"name": "one"}, "mark": {"type": "rect", "color": "#dbe0e7"}, "encoding": {"x": {"datum": -12.068, "type": "quantitative"}, "x2": {"datum": 63.484}, "y": {"datum": -0.1137, "type": "quantitative"}, "y2": {"datum": -0.10556}}},
  {"data": {"name": "one"}, "mark": {"type": "rect", "color": "#dbe0e7"}, "encoding": {"x": {"datum": -12.068, "type": "quantitative"}, "x2": {"datum": -10.793}, "y": {"datum": -0.1137, "type": "quantitative"}, "y2": {"datum": 0.31296}}},
  {"data": {"name": "one"}, "mark": {"type": "rect", "color": "#dbe0e7"}, "encoding": {"x": {"datum": 61.615, "type": "quantitative"}, "x2": {"datum": 63.484}, "y": {"datum": -0.1137, "type": "quantitative"}, "y2": {"datum": 0.31296}}},
  {"data": {"name": "H_s"}, "mark": {"type": "line", "color": "#000000", "strokeWidth": 4.5}, "encoding": {"x": {"field": "minute", "type": "quantitative"}, "y": {"field": "signal", "type": "quantitative"}}},
  {"data": {"name": "N0"}, "mark": {"type": "line", "color": "#0000ff", "strokeWidth": 5.5}, "encoding": {"x": {"field": "minute", "type": "quantitative"}, "y": {"field": "signal", "type": "quantitative"}}},
  {"data": {"name": "one"}, "mark": {"type": "rect", "filled": false, "stroke": "#000000", "strokeWidth": 2}, "encoding": {"x": {"datum": 0, "type": "quantitative"}, "x2": {"datum": 60}, "y": {"datum": -0.05, "type": "quantitative"}, "y2": {"datum": 0.25}}},
  {"data": {"name": "one"}, "mark": {"type": "rule", "color": "#000000", "strokeWidth": 2.5}, "encoding": {"x": {"datum": 45.5, "type": "quantitative"}, "x2": {"datum": 50.2}, "y": {"datum": 0.064, "type": "quantitative"}, "y2": {"datum": 0.064}}},
  {"data": {"name": "one"}, "mark": {"type": "text", "text": "250 pg", "font": "Liberation Serif", "fontWeight": "bold", "fontSize": 38, "align": "right", "baseline": "alphabetic", "color": "#000000"}, "encoding": {"x": {"datum": 45.5, "type": "quantitative"}, "y": {"datum": 0.0603, "type": "quantitative"}}},
  {"data": {"name": "one"}, "mark": {"type": "rule", "color": "#000000", "strokeWidth": 2.5}, "encoding": {"x": {"datum": 30.2, "type": "quantitative"}, "x2": {"datum": 33.5}, "y": {"datum": 0, "type": "quantitative"}, "y2": {"datum": -0.0334}}},
  {"data": {"name": "one"}, "mark": {"type": "text", "text": "Negative control", "font": "Liberation Serif", "fontWeight": "bold", "fontSize": 38, "align": "left", "baseline": "alphabetic", "color": "#000000"}, "encoding": {"x": {"datum": 33.6, "type": "quantitative"}, "y": {"datum": -0.0417, "type": "quantitative"}}},
  {"data": {"name": "one"}, "mark": {"type": "rule", "color": "#ff0000", "strokeWidth": 3}, "encoding": {"x": {"datum": 26.65, "type": "quantitative"}, "x2": {"datum": 23.9}, "y": {"datum": 0.25, "type": "quantitative"}, "y2": {"datum": 0.2848}}},
  {"data": {"name": "one"}, "mark": {"type": "point", "shape": "M0,0L-1.1,2.6L1.1,2.6Z", "size": 400, "filled": true, "color": "#ff0000", "opacity": 1, "angle": -35}, "encoding": {"x": {"datum": 23.9, "type": "quantitative"}, "y": {"datum": 0.2848, "type": "quantitative"}}},
  {"data": {"name": "one"}, "mark": {"type": "text", "text": "Block D(No Connection / 67.0° C):U( optimal\u00a0 temperature)", "font": "DejaVu Sans Mono", "fontSize": 25.5, "align": "left", "baseline": "alphabetic", "color": "#000000"}, "encoding": {"x": {"datum": -10.75, "type": "quantitative"}, "y": {"datum": 0.28852, "type": "quantitative"}}}
 ]}
]
}
